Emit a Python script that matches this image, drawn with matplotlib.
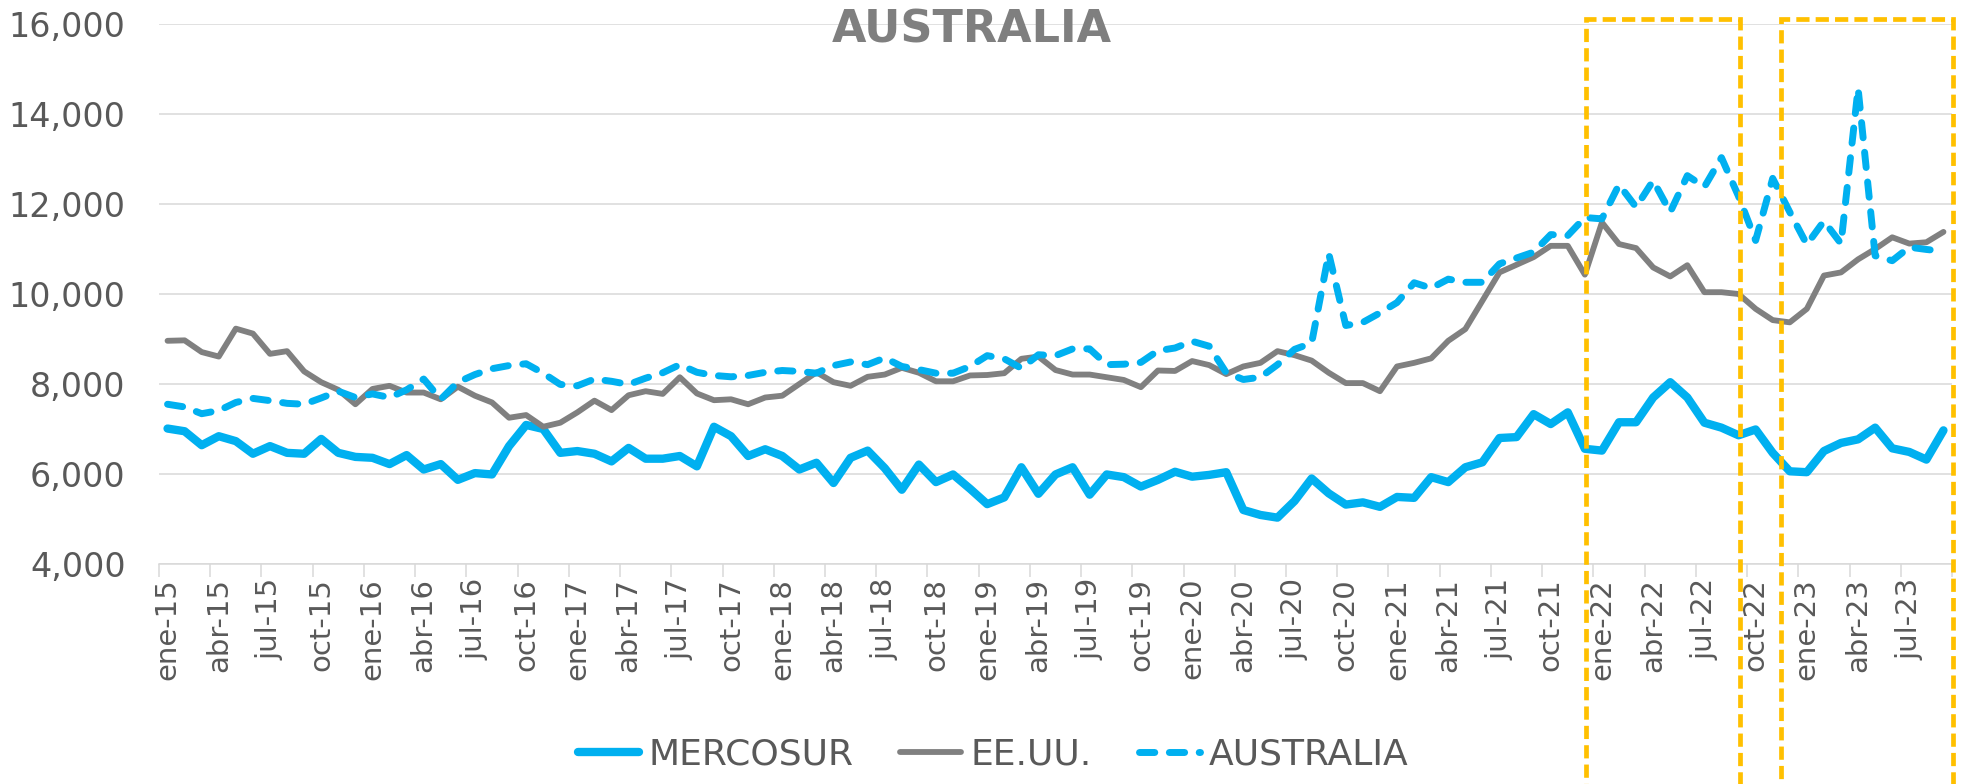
import numpy as np
import matplotlib.pyplot as plt
from matplotlib.patches import Rectangle
from matplotlib.ticker import FuncFormatter

# months jan-15 .. sep-23
meses = ['ene', 'feb', 'mar', 'abr', 'may', 'jun', 'jul', 'ago', 'sep', 'oct', 'nov', 'dic']
fechas = [m + '-' + str(15 + a) for a in range(9) for m in meses][:105]

mercosur = [7010, 6950, 6640, 6840, 6730, 6450, 6620, 6470, 6450, 6780, 6470, 6380,
            6360, 6220, 6420, 6100, 6220, 5870, 6020, 5990, 6620, 7090, 7000, 6470,
            6510, 6450, 6280, 6580, 6340, 6340, 6400, 6170, 7050, 6840, 6400, 6550,
            6400, 6100, 6250, 5800, 6360, 6520, 6130, 5650, 6210, 5820, 5990, 5670,
            5330, 5480, 6150, 5560, 5990, 6150, 5540, 5990, 5930, 5720, 5870, 6050,
            5940, 5980, 6040, 5200, 5090, 5030, 5400, 5900, 5570, 5320, 5370, 5270,
            5490, 5470, 5930, 5820, 6150, 6260, 6800, 6820, 7330, 7110, 7370, 6560,
            6520, 7150, 7150, 7700, 8040, 7700, 7140, 7030, 6860, 6990, 6470, 6060,
            6040, 6510, 6690, 6770, 7030, 6570, 6490, 6320, 6970]

eeuu = [8960, 8970, 8710, 8610, 9230, 9120, 8670, 8730, 8280, 8040, 7870, 7550,
        7890, 7960, 7810, 7810, 7660, 7940, 7740, 7590, 7250, 7310, 7050, 7140,
        7370, 7630, 7420, 7750, 7840, 7780, 8150, 7790, 7640, 7660, 7550, 7700,
        7740, 8000, 8260, 8040, 7960, 8160, 8210, 8360, 8250, 8060, 8060, 8190,
        8200, 8240, 8560, 8610, 8310, 8210, 8210, 8150, 8090, 7930, 8300, 8290,
        8510, 8420, 8220, 8390, 8470, 8730, 8640, 8520, 8250, 8020, 8020, 7840,
        8390, 8470, 8570, 8960, 9220, 9850, 10480, 10650, 10820, 11070, 11070, 10430,
        11590, 11110, 11020, 10590, 10390, 10640, 10040, 10040, 10000, 9670, 9420, 9370,
        9670, 10410, 10480, 10770, 11000, 11260, 11120, 11150, 11380]

australia = [7550, 7490, 7340, 7410, 7590, 7680, 7630, 7570, 7550, 7690, 7840, 7700,
             7780, 7700, 7870, 8110, 7660, 8040, 8210, 8340, 8410, 8450, 8240, 7990,
             7960, 8110, 8060, 7990, 8130, 8250, 8430, 8260, 8190, 8160, 8190, 8260,
             8300, 8280, 8240, 8410, 8490, 8430, 8580, 8390, 8320, 8240, 8240, 8390,
             8630, 8560, 8350, 8650, 8630, 8780, 8780, 8430, 8440, 8480, 8740, 8800,
             8950, 8840, 8250, 8100, 8150, 8430, 8770, 8910, 10900, 9300, 9370, 9580,
             9810, 10250, 10130, 10330, 10260, 10260, 10670, 10800, 10930, 11320, 11300, 11700,
             11670, 12430, 11930, 12520, 11820, 12630, 12380, 13030, 12170, 11190, 12570, 11820,
             11100, 11620, 11120, 14570, 10850, 10740, 11040, 10990, 10950]

AZUL = '#00B0F0'
GRIS = '#808080'
TEXTO = '#595959'

fig = plt.figure(figsize=(19.63, 7.84), dpi=100)
ax = fig.add_axes([159 / 1963, 1 - 564 / 784, (1952 - 159) / 1963, 540 / 784])

x = np.arange(len(fechas))
ax.plot(x, mercosur, color=AZUL, lw=6.0, solid_joinstyle='round',
        solid_capstyle='round', label='MERCOSUR')
ax.plot(x, eeuu, color=GRIS, lw=4.2, solid_capstyle='round', label='EE.UU.')
ax.plot(x, australia, color=AZUL, lw=5.0, dashes=(2.2, 2.1),
        dash_capstyle='round', dash_joinstyle='round', label='AUSTRALIA')

ax.set_xlim(-0.5, len(fechas) - 0.5)
ax.set_ylim(4000, 16000)
ax.set_yticks(range(4000, 16001, 2000))
ax.yaxis.set_major_formatter(FuncFormatter(lambda v, p: f'{int(v):,}'))
ax.yaxis.grid(True, color='#D9D9D9', lw=1.1)
ax.set_axisbelow(True)
for s in ['top', 'right', 'left']:
    ax.spines[s].set_visible(False)
ax.spines['bottom'].set_color('#D9D9D9')
ax.spines['bottom'].set_linewidth(1.1)
ax.tick_params(axis='y', length=0, pad=24, labelsize=24, labelcolor=TEXTO)

# tick marks between categories, labels centred on categories
ax.set_xticks(np.arange(-0.5, len(fechas), 3))
ax.set_xticklabels([])
ax.tick_params(axis='x', which='major', length=9, width=1.1, color='#D9D9D9')
ax.set_xticks(x[::3], minor=True)
ax.set_xticklabels(fechas[::3], minor=True, rotation=90)
ax.tick_params(axis='x', which='minor', length=0, pad=10, labelsize=21, labelcolor=TEXTO)

# highlighted periods
for x0, x1 in [(83.07, 92.1), (94.47, 104.53)]:
    ax.add_patch(Rectangle((x0, -1500), x1 - x0, 16104 + 1500, fill=False,
                           edgecolor='#FFC000', lw=3.4, linestyle=(0, (2.8, 1.3)),
                           joinstyle='miter', clip_on=False, zorder=5))

fig.text(0.495, 0.962, 'AUSTRALIA', fontsize=32, fontweight='bold',
         color='#7F7F7F', ha='center', va='center')

fig.legend(loc='center', bbox_to_anchor=(0.506, 0.037), ncol=3, frameon=False,
           fontsize=26, handlelength=1.7, handletextpad=0.25, columnspacing=1.3,
           labelcolor=TEXTO)

fig.savefig('out.png', dpi=100)
